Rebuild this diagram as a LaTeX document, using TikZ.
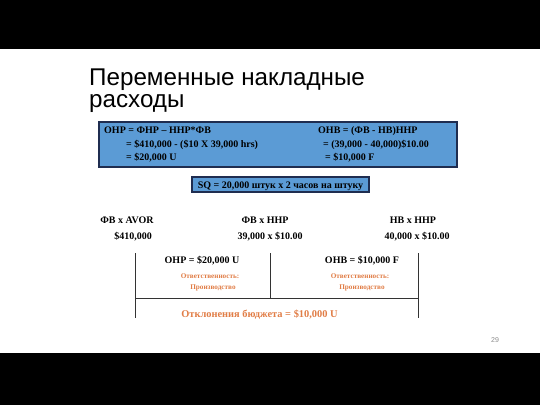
\documentclass[tikz,border=0pt]{standalone}
\usepackage{fontspec}
\setmainfont{Liberation Serif}
\newfontfamily\titlefont{Liberation Sans}
\definecolor{boxblue}{RGB}{91,155,213}
\definecolor{boxedge}{RGB}{31,45,80}
\definecolor{resporange}{RGB}{225,125,70}
\begin{document}
\begin{tikzpicture}[x=1pt,y=-1pt,
  bt/.style={font=\fontsize{10}{12}\selectfont\bfseries, inner sep=0pt},
  ot/.style={font=\fontsize{7.2}{9}\selectfont\bfseries, text=resporange, inner sep=0pt},
  divline/.style={draw=black!80, line width=1pt},
  bluebox/.style={draw=boxedge, line width=1.5pt, fill=boxblue}]
\fill[black] (0,0) rectangle (540,405);
\fill[white] (0,49) rectangle (540,353);
\useasboundingbox (0,0) rectangle (540,405);
% title
\node[anchor=base west, inner sep=0pt, font=\titlefont\fontsize{24.2}{22}\selectfont] (t1) at (89,85) {Переменные накладные};
\node[anchor=base west, inner sep=0pt, font=\titlefont\fontsize{24.2}{22}\selectfont] (t2) at (89,107.5) {расходы};
% blue box
\path[bluebox] (99,122) rectangle (457,167);
\node[bt, anchor=base west] (l1) at (104,133) {ОНР = ФНР – ННР*ФВ};
\node[bt, anchor=base west] (l2) at (126,147) {= \$410,000 - (\$10 X 39,000 hrs)};
\node[bt, anchor=base west] (l3) at (126,160.5) {= \$20,000 U};
\node[bt, anchor=base west] (r1) at (318,133) {ОНВ = (ФВ - НВ)ННР};
\node[bt, anchor=base west] (r2) at (323,147) {= (39,000 - 40,000)\$10.00};
\node[bt, anchor=base west] (r3) at (325,160.5) {= \$10,000 F};
% SQ box
\path[bluebox, line width=1.2pt] (192,177) rectangle (369,192);
\node[bt, anchor=base] (sq) at (280.5,188) {SQ = 20,000 штук x 2 часов на штуку};
% column heads
\node[bt, anchor=base] (h1) at (127,223) {ФВ x AVOR};
\node[bt, anchor=base] (v1) at (133,239) {\$410,000};
\node[bt, anchor=base] (h2) at (265,223) {ФВ x ННР};
\node[bt, anchor=base] (v2) at (270,239) {39,000 x \$10.00};
\node[bt, anchor=base] (h3) at (413,223) {НВ x ННР};
\node[bt, anchor=base] (v3) at (417,239) {40,000 x \$10.00};
% lines
\coordinate (a1) at (135,253); \coordinate (a2) at (135,318);
\coordinate (b1) at (270,253); \coordinate (b2) at (270,298);
\coordinate (c1) at (418,253); \coordinate (c2) at (418,318);
\coordinate (m1) at (135,298); \coordinate (m2) at (418,298);
\draw[divline] (a1) -- (a2);
\draw[divline] (b1) -- (b2);
\draw[divline] (c1) -- (c2);
\draw[divline] (m1) -- (m2);
% variances
\node[bt, anchor=base] (ohp) at (202,263) {ОНР = \$20,000 U};
\node[bt, anchor=base] (ohb) at (362,263) {ОНВ = \$10,000 F};
\node[ot, anchor=base] (o1) at (210,278) {Ответственность:};
\node[ot, anchor=base] (o2) at (213,289) {Производство};
\node[ot, anchor=base] (o3) at (360,278) {Ответственность:};
\node[ot, anchor=base] (o4) at (362,289) {Производство};
\node[bt, anchor=base, text=resporange, font=\fontsize{10.4}{12}\selectfont\bfseries] (bud) at (259.5,317) {Отклонения бюджета = \$10,000 U};
% page number
\node[anchor=base, inner sep=0pt, text=black!45, font=\titlefont\fontsize{7}{8}\selectfont] (pg) at (495,342) {29};
\end{tikzpicture}
\end{document}
